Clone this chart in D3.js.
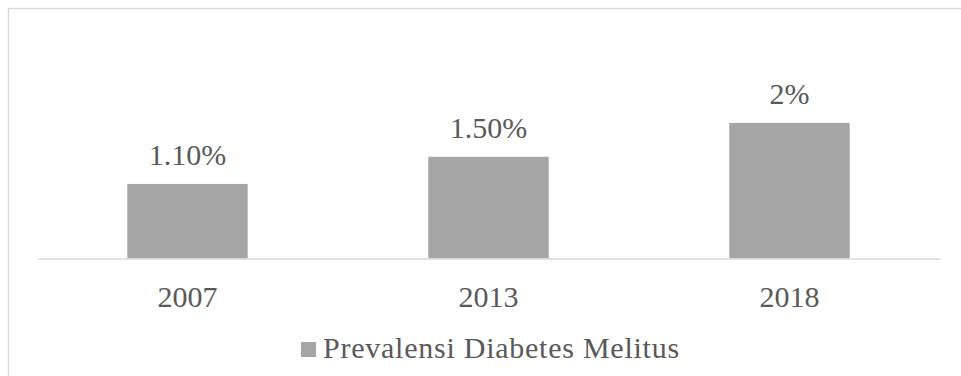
<!DOCTYPE html>
<html>
<head>
<meta charset="utf-8">
<script src="https://cdn.jsdelivr.net/npm/d3@7"></script>
<style>
  body { margin: 0; background: #fff; }
  text { font-family: "Liberation Serif", "Times New Roman", serif; fill: #595959; }
</style>
</head>
<body>
<svg width="961" height="376"></svg>
<script>
const years = ['2007', '2013', '2018']
const values = [1.1, 1.5, 2]
const valueLabels = ['1.10%', '1.50%', '2%']
const seriesName = 'Prevalensi Diabetes Melitus'

const svg = d3.select('svg')
const width = +svg.attr('width')
const height = +svg.attr('height')

// chart frame, right and bottom edges run past the picture
svg.append('rect')
  .attr('x', 8.5).attr('y', 8.5)
  .attr('width', 1000).attr('height', 400)
  .attr('fill', '#fff')
  .attr('stroke', '#d9d9d9')
  .attr('stroke-width', 1.5)

const plot = {left: 37, right: 940, top: 89, bottom: 258.5}

const x = d3.scaleBand()
  .domain(years)
  .range([plot.left, plot.right])
  .paddingInner(0.6)
  .paddingOuter(0.3)

const y = d3.scaleLinear()
  .domain([0, 2.5])
  .range([plot.bottom, plot.top])

const g = svg.append('g')

g.selectAll('.bar')
  .data(values)
  .enter().append('rect')
  .attr('class', 'bar')
  .attr('x', (d, i) => x(years[i]))
  .attr('y', d => y(d))
  .attr('width', x.bandwidth())
  .attr('height', d => y(0) - y(d))
  .attr('fill', '#a5a5a5')

g.selectAll('.val')
  .data(values)
  .enter().append('text')
  .attr('class', 'val')
  .attr('x', (d, i) => x(years[i]) + x.bandwidth() / 2)
  .attr('y', d => y(d) - 19)
  .attr('text-anchor', 'middle')
  .style('font-size', '30px')
  .text((d, i) => valueLabels[i])

// baseline + category labels
const xAxis = g.append('g')
  .attr('transform', `translate(0, ${plot.bottom})`)
  .call(d3.axisBottom(x).tickSize(0).tickPadding(0))
xAxis.select('.domain').attr('stroke', '#d9d9d9').attr('stroke-width', 1.5)
xAxis.selectAll('text')
  .attr('dy', null)
  .attr('y', 48.5)
  .attr('fill', '#595959')
  .style('font-size', '30px')
  .style('font-family', '"Liberation Serif", "Times New Roman", serif')

// legend
const legend = svg.append('g').attr('transform', 'translate(301, 342)')
legend.append('rect')
  .attr('width', 15).attr('height', 15)
  .attr('fill', '#a5a5a5')
legend.append('text')
  .attr('x', 22)
  .attr('y', 16)
  .style('font-size', '30px')
  .style('letter-spacing', '0.75px')
  .text(seriesName)
</script>
</body>
</html>
